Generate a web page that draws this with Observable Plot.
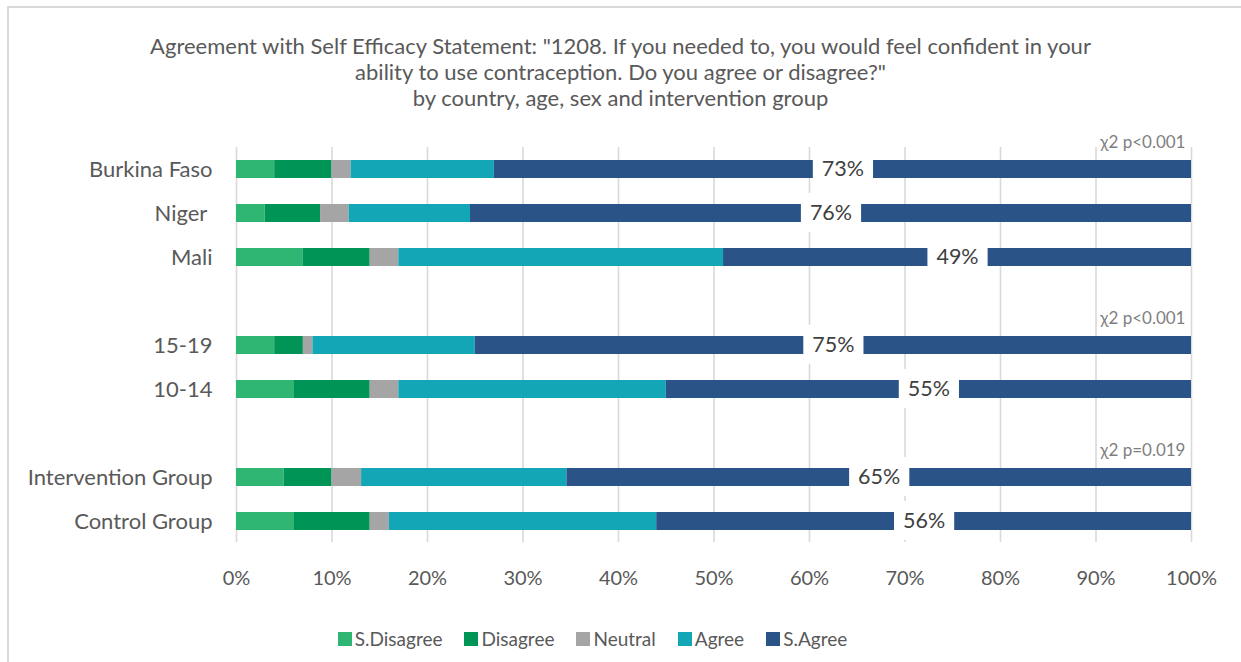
<!DOCTYPE html>
<html>
<head>
<meta charset="utf-8">
<script src="https://cdn.jsdelivr.net/npm/d3@7"></script>
<script src="https://cdn.jsdelivr.net/npm/@observablehq/plot@0.6"></script>
<style>
  html, body { margin: 0; padding: 0; background: #fff; overflow: hidden; }
  #frame { position: absolute; left: 7px; top: 6px; width: 2000px; height: 2000px;
           border-left: 2px solid #d9d9d9; border-top: 2px solid #d9d9d9; z-index: 0; pointer-events: none; }
  #chart { position: relative; width: 1241px; z-index: 1; font-family: Lato, sans-serif; color: #595959; }
  #title { box-sizing: border-box; height: 125px; padding-top: 33px; text-align: center;
           font-size: 22px; line-height: 26px; }
  #chart svg text { white-space: pre; }
  #legend { box-sizing: border-box; height: 60px; padding-top: 14px; padding-right: 56px;
            display: flex; justify-content: center; align-items: center; font-size: 19px; line-height: 24px; }
  .item { display: flex; align-items: center; margin: 0 11px; }
  .sw { width: 14px; height: 14px; margin-right: 3px; }
</style>
</head>
<body>
<div id="frame"></div>
<div id="chart">
  <div id="title">
    <div>Agreement with Self Efficacy Statement: "1208. If you needed to, you would feel confident in your</div>
    <div>ability to use contraception. Do you agree or disagree?"</div>
    <div>by country, age, sex and intervention group</div>
  </div>
  <div id="plot"></div>
  <div id="legend"></div>
</div>
<script>
// ---- data ----
const categories = ["Burkina Faso", "Niger ", "Mali", "15-19", "10-14", "Intervention Group", "Control Group"];
const rowOrder = ["Burkina Faso", "Niger ", "Mali", "gap1", "15-19", "10-14", "gap2", "Intervention Group", "Control Group"];
const responses = ["S.Disagree", "Disagree", "Neutral", "Agree", "S.Agree"];
const colors = ["#2EB672", "#009456", "#A5A5A5", "#13A6B6", "#2A5387"];
const sDisagree = [4, 3, 7, 4, 6, 5, 6];
const disagree  = [6, 5.8, 7, 3, 8, 5, 8];
const neutral   = [2, 3, 3, 1, 3, 3.1, 2];
const agree     = [15, 12.7, 34, 17, 28, 21.5, 28];
const sAgree    = [73, 75.5, 49, 75, 55, 65.4, 56];
const xTicks = [0, 10, 20, 30, 40, 50, 60, 70, 80, 90, 100];
const chiRows = ["Burkina Faso", "15-19", "Intervention Group"];
const chiLabels = ["χ2 p<0.001", "χ2 p<0.001", "χ2 p=0.019"];

const series = [sDisagree, disagree, neutral, agree, sAgree];
const table = [];
categories.forEach((c, i) => {
  responses.forEach((r, j) => table.push({category: c, response: r, value: series[j][i]}));
});
const chiTable = chiRows.map((r, i) => ({row: r, label: chiLabels[i]}));

const svg = Plot.plot({
  width: 1241,
  height: 477,
  marginTop: 22,
  marginBottom: 60,
  marginLeft: 236,
  marginRight: 50,
  style: {fontFamily: "Lato, sans-serif", fontSize: "20px", color: "#595959", background: "transparent", overflow: "visible"},
  x: {domain: [0, 100], ticks: xTicks, tickFormat: d => d + "%", tickSize: 0, tickPadding: 28, label: null},
  y: {domain: rowOrder, paddingInner: 0.6, paddingOuter: 0.276, tickSize: 0, tickPadding: 24,
      tickFormat: d => d.startsWith("gap") ? "" : d, label: null},
  color: {domain: responses, range: colors},
  marks: [
    Plot.ruleX(xTicks, {stroke: "#d9d9d9", strokeWidth: 1.6}),
    Plot.barX(table, Plot.stackX({y: "category", x: "value", z: "response", fill: "response"})),
    Plot.text(table, Plot.stackX({
      y: "category", x: "value", z: "response",
      text: d => d.response === "S.Agree" ? Math.round(d.value) + "%" : null,
      fill: "#404040", fontSize: 21.5
    })),
    Plot.text(chiTable, {x: () => 100, y: "row", text: "label", dy: -27, dx: -6,
      textAnchor: "end", fill: "#7f7f7f", fontSize: 17})
  ]
});
document.getElementById("plot").appendChild(svg);

// larger category labels on the y axis
svg.querySelectorAll('g[aria-label^="y-axis"]').forEach(g => {
  g.setAttribute("font-size", "22");
  g.querySelectorAll("text").forEach(t => t.setAttribute("font-size", "22"));
});

// white label boxes behind the percentage labels
const ns = "http://www.w3.org/2000/svg";
const labelTexts = Array.from(svg.querySelectorAll("text")).filter(t => {
  const g = t.closest("g");
  return g && g.getAttribute("fill") === "#404040";
});
labelTexts.forEach(t => {
  const b = t.getBBox();
  const r = document.createElementNS(ns, "rect");
  r.setAttribute("x", b.x - 9);
  r.setAttribute("width", b.width + 18);
  r.setAttribute("y", b.y + b.height / 2 - 19.5);
  r.setAttribute("height", 39);
  r.setAttribute("fill", "white");
  const tr = t.getAttribute("transform");
  if (tr) r.setAttribute("transform", tr);
  t.parentNode.insertBefore(r, t);
});

// legend
const legend = document.getElementById("legend");
responses.forEach((r, i) => {
  const it = document.createElement("div");
  it.className = "item";
  const sw = document.createElement("div");
  sw.className = "sw";
  sw.style.background = colors[i];
  const tx = document.createElement("span");
  tx.textContent = r;
  it.appendChild(sw);
  it.appendChild(tx);
  legend.appendChild(it);
});
</script>
</body>
</html>
